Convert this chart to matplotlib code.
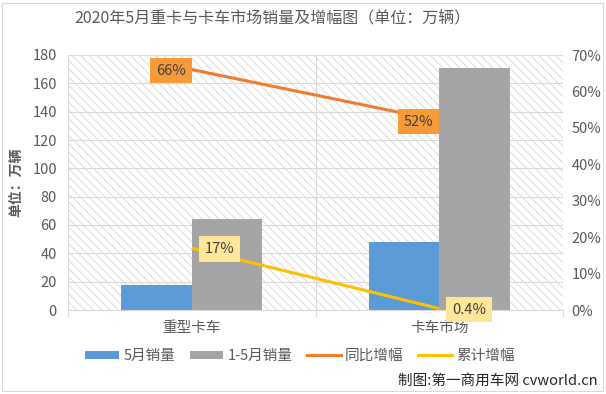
import matplotlib
matplotlib.use("Agg")
import matplotlib.pyplot as plt
from matplotlib.patches import Rectangle, Patch
from matplotlib.lines import Line2D
import numpy as np

plt.rcParams['font.family'] = ['Noto Sans CJK SC', 'DejaVu Sans']
plt.rcParams['hatch.linewidth'] = 0.6

categories = ['重型卡车', '卡车市场']
may_sales = [17.6, 47.8]
jan_may_sales = [64.2, 170.6]
yoy_growth = [0.66, 0.52]
cum_growth = [0.17, 0.004]
yoy_labels = ['66%', '52%']
cum_labels = ['17%', '0.4%']
series_names = ['5月销量', '1-5月销量', '同比增幅', '累计增幅']
title = '2020年5月重卡与卡车市场销量及增幅图（单位：万辆）'
ylabel = '单位：万辆'
credit = '制图:第一商用车网 cvworld.cn'

c_blue = '#5B9BD5'
c_gray = '#A5A5A5'
c_orange = '#ED7D31'
c_yellow = '#FFC000'
txt = '#595959'

W, H = 606, 394
fig = plt.figure(figsize=(W / 100, H / 100), dpi=100)
fig.patch.set_facecolor('white')

# chart border
fig.add_artist(Rectangle((2 / W, 3 / H), 601 / W, 388 / H, transform=fig.transFigure,
                         fill=False, edgecolor='#D9D9D9', linewidth=0.8))

ax = fig.add_axes([68 / W, 1 - 310 / H, 495 / W, 255 / H])
ax.set_facecolor('white')
ax.add_patch(Rectangle((0, 0), 1, 1, transform=ax.transAxes, facecolor='white',
                       edgecolor='#D6D6D6', hatch='\\\\\\\\', linewidth=0, zorder=0))

x = np.arange(len(categories))
bw = 0.2857
ax.bar(x - bw / 2, may_sales, width=bw, color=c_blue, zorder=3)
ax.bar(x + bw / 2, jan_may_sales, width=bw, color=c_gray, zorder=3)

ax.set_xlim(-0.5, len(categories) - 0.5)
ax.set_ylim(0, 180)
ax.set_yticks(np.arange(0, 181, 20))
ax.set_xticks(x)
ax.set_xticklabels(categories, fontsize=10.5, color=txt)
ax.set_xticks(np.arange(-0.5, len(categories), 1), minor=True)
ax.tick_params(axis='x', which='major', length=0, pad=8)
ax.tick_params(axis='x', which='minor', length=5, color='#D9D9D9', width=0.8)
ax.tick_params(axis='y', length=0, labelsize=10.5, labelcolor=txt, pad=8)
ax.grid(axis='y', color='#D9D9D9', linewidth=0.8, zorder=1)
ax.grid(axis='x', which='minor', color='#D9D9D9', linewidth=0.8, zorder=1)
for s in ['top', 'right', 'left']:
    ax.spines[s].set_visible(False)
ax.spines['bottom'].set_color('#D9D9D9')
ax.spines['bottom'].set_zorder(4)
ax.set_axisbelow(True)

ax2 = ax.twinx()
ax2.set_ylim(0, 0.7)
ax2.set_yticks(np.arange(0, 0.71, 0.1))
ax2.set_yticklabels([f'{int(round(v * 100))}%' for v in np.arange(0, 0.71, 0.1)])
ax2.tick_params(axis='y', length=0, labelsize=10.5, labelcolor=txt, pad=6)
for s in ax2.spines.values():
    s.set_visible(False)

ax2.plot(x, yoy_growth, color=c_orange, linewidth=2.2, solid_capstyle='butt', zorder=5)
ax2.plot(x, cum_growth, color=c_yellow, linewidth=2.2, solid_capstyle='butt', zorder=5)

for xi, v, lab in zip(x, yoy_growth, yoy_labels):
    ax2.annotate(lab, (xi, v), xytext=(-6, -1), textcoords='offset pixels',
                 ha='right', va='center', fontsize=10.5, color='#404040', zorder=6,
                 bbox=dict(boxstyle='square,pad=0.4', facecolor='#F79A38', edgecolor='none'))
for xi, v, lab in zip(x, cum_growth, cum_labels):
    ax2.annotate(lab, (xi, v), xytext=(13, -1), textcoords='offset pixels',
                 ha='left', va='center', fontsize=10.5, color='#404040', zorder=6,
                 bbox=dict(boxstyle='square,pad=0.4', facecolor='#FFE699', edgecolor='none'))

fig.text(272 / W, 1 - 18 / H, title, ha='center', va='center', fontsize=11.5, color=txt)
fig.text(16 / W, 1 - 182 / H, ylabel, ha='center', va='center', rotation=90,
         fontsize=10, fontweight='bold', color=txt)

handles = [Patch(facecolor=c_blue), Patch(facecolor=c_gray),
           Line2D([], [], color=c_orange, linewidth=2.2),
           Line2D([], [], color=c_yellow, linewidth=2.2)]
fig.legend(handles, series_names, loc='center', bbox_to_anchor=(300 / W, 1 - 356 / H),
           ncol=4, frameon=False, fontsize=10.5, handlelength=2.3, handleheight=0.5,
           columnspacing=1.0, handletextpad=0.3, labelcolor=txt)

fig.text(598 / W, 1 - 381 / H, credit, ha='right', va='center', fontsize=10.5, color='#262626')

fig.savefig('out.png', dpi=100)
